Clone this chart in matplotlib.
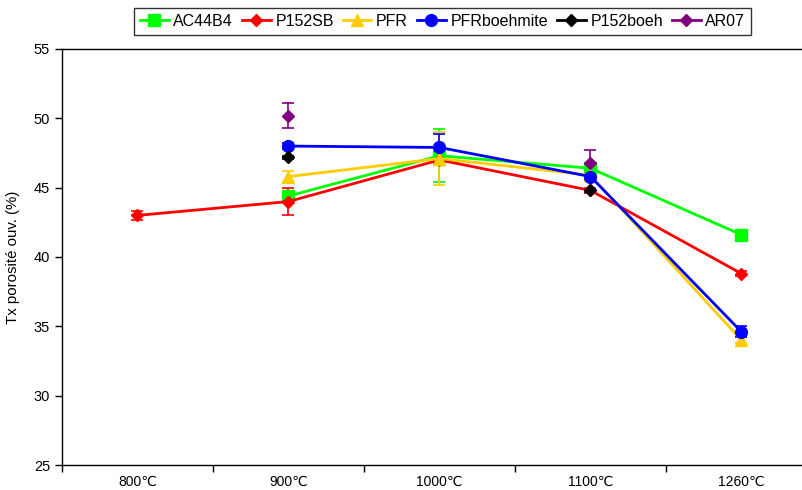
import numpy as np
import matplotlib
matplotlib.use("Agg")
import matplotlib.pyplot as plt

plt.rcParams['font.family'] = ['Liberation Sans', 'DejaVu Sans']

categories = ["800℃", "900℃", "1000℃", "1100℃", "1260℃"]
nan = np.nan

series_names = ["AC44B4", "P152SB", "PFR", "PFRboehmite", "P152boeh", "AR07"]
ac44b4 = [nan, 44.4, 47.3, 46.4, 41.6]
ac44b4_err = [nan, 0.3, 1.9, 0.3, 0.3]
p152sb = [43.0, 44.0, 47.0, 44.8, 38.8]
p152sb_err = [0.3, 1.0, 0.3, 0.2, 0.2]
pfr = [nan, 45.8, 47.1, 45.9, 34.0]
pfr_err = [nan, 0.4, 1.9, 0.4, 0.2]
pfrboehmite = [nan, 48.0, 47.9, 45.8, 34.6]
pfrboehmite_err = [nan, 0.2, 1.0, 0.2, 0.4]
p152boeh = [nan, 47.2, nan, 44.8, nan]
p152boeh_err = [nan, 0.1, nan, 0.1, nan]
ar07 = [nan, 50.2, nan, 46.8, nan]
ar07_err = [nan, 0.9, nan, 0.9, nan]

values = [ac44b4, p152sb, pfr, pfrboehmite, p152boeh, ar07]
errors = [ac44b4_err, p152sb_err, pfr_err, pfrboehmite_err, p152boeh_err, ar07_err]
colors = ["#00FF00", "#FF0000", "#FFCC00", "#0000FF", "#000000", "#800080"]
markers = ["s", "D", "^", "o", "D", "D"]
msizes = [8.5, 6.5, 8.5, 8.5, 6.5, 6.5]

fig = plt.figure(figsize=(8.03, 4.90), dpi=100)
ax = fig.add_axes([62 / 803, 1 - 465 / 490, (817 - 62) / 803, (465 - 49) / 490])

x = np.arange(len(categories))
for name, v, e, c, m, ms in zip(series_names, values, errors, colors, markers, msizes):
    v = np.array(v, dtype=float)
    e = np.array(e, dtype=float)
    ax.errorbar(x, v, yerr=e, fmt="none", ecolor=c, elinewidth=1.2,
                capsize=4.5, capthick=1.2, zorder=2)
    ax.plot(x, v, color=c, lw=2, marker=m, markersize=ms,
            markeredgecolor=c, markerfacecolor=c, label=name, zorder=3)

ax.set_xlim(-0.5, len(categories) - 0.5)
ax.set_ylim(25, 55)
ax.set_yticks(np.arange(25, 56, 5))
ax.set_xticks(x)
ax.set_xticklabels(categories, fontsize=10)
ax.set_xticks(np.arange(-0.5, len(categories), 1), minor=True)
ax.tick_params(axis="x", which="major", length=0, pad=7)
ax.tick_params(axis="x", which="minor", length=5, direction="out", width=1)
ax.tick_params(axis="y", length=5, direction="out", labelsize=10.5, width=1)
for s in ax.spines.values():
    s.set_linewidth(1.0)
    s.set_color("#000000")

ax.set_ylabel("Tx porosité ouv. (%)", fontsize=10.8)
ax.yaxis.set_label_coords(-42 / 755, 0.5)

leg = fig.legend(loc="upper center", bbox_to_anchor=(442.5 / 803, 1 - 8.5 / 490),
                 ncol=6, frameon=True, fancybox=False, fontsize=11.5,
                 handlelength=1.8, handletextpad=0.3, columnspacing=0.55,
                 borderpad=0.35, borderaxespad=0, edgecolor="black")
leg.get_frame().set_linewidth(1.0)

fig.savefig("out.png", dpi=100)
